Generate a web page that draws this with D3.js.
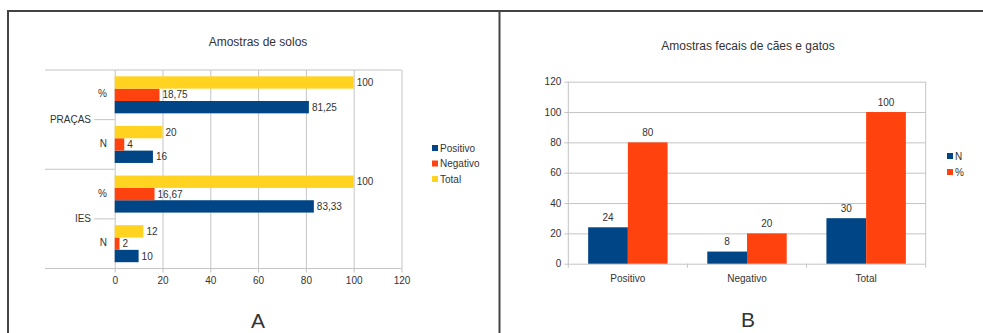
<!DOCTYPE html>
<html>
<head>
<meta charset="utf-8">
<script src="https://cdn.jsdelivr.net/npm/d3@7"></script>
<style>
  body { margin: 0; background: #fff; }
  svg text { font-family: "Liberation Sans", Arial, sans-serif; fill: #333; }
</style>
</head>
<body>
<svg id="fig" width="983" height="333"></svg>
<script>
// ---- data: chart A (soil samples) ----
const groupsA = ["PRAÇAS", "IES"];
const subCatsA = ["%", "N"];
const seriesA = ["Positivo", "Negativo", "Total"];
const positivoA = [81.25, 16, 83.33, 10];   // PRAÇAS %, PRAÇAS N, IES %, IES N
const negativoA = [18.75, 4, 16.67, 2];
const totalA    = [100, 20, 100, 12];
const ticksA = [0, 20, 40, 60, 80, 100, 120];

// ---- data: chart B (faecal samples) ----
const categoriesB = ["Positivo", "Negativo", "Total"];
const seriesB = ["N", "%"];
const nB   = [24, 8, 30];
const pctB = [80, 20, 100];
const ticksB = [0, 20, 40, 60, 80, 100, 120];

const COLORS = { "Positivo": "#004586", "Negativo": "#ff420e", "Total": "#ffd320", "N": "#004586", "%": "#ff420e" };
const GRID = "#c4c4c4";

const locale = d3.formatLocale({ decimal: ",", thousands: ".", grouping: [3], currency: ["", ""] });
const fmt = locale.format("~f");

const svg = d3.select("#fig");

// outer frame
svg.append("line").attr("x1", 8).attr("x2", 983).attr("y1", 11).attr("y2", 11)
  .attr("stroke", "#444").attr("stroke-width", 2);
svg.append("line").attr("x1", 8).attr("x2", 8).attr("y1", 10).attr("y2", 333)
  .attr("stroke", "#444").attr("stroke-width", 2);
svg.append("line").attr("x1", 499.5).attr("x2", 499.5).attr("y1", 10).attr("y2", 333)
  .attr("stroke", "#444").attr("stroke-width", 2);

// ================= Chart A =================
function drawChartA() {
  const g = svg.append("g");
  const rows = [];
  groupsA.forEach((grp, gi) => subCatsA.forEach((sub, si) => {
    const i = gi * subCatsA.length + si;
    rows.push({ key: grp + "|" + sub, grp, sub,
      vals: { "Positivo": positivoA[i], "Negativo": negativoA[i], "Total": totalA[i] } });
  }));

  const x = d3.scaleLinear().domain([0, 120]).range([114.7, 401.5]);
  const y = d3.scaleBand().domain(rows.map(r => r.key)).range([70, 268.5]);
  const yInner = d3.scaleBand().domain(["Total", "Negativo", "Positivo"])
    .range([0, y.bandwidth()]).paddingOuter(0.51);
  const yGroup = d3.scaleBand().domain(groupsA).range([70, 268.5]);

  g.append("text").attr("x", 258).attr("y", 46).attr("text-anchor", "middle")
    .attr("font-size", 12).text("Amostras de solos");

  // vertical grid + ticks below
  const xAxis = d3.axisBottom(x).tickValues(ticksA).tickSize(-(268.5 - 70)).tickPadding(8);
  const ax = g.append("g").attr("transform", "translate(0,268.5)").call(xAxis);
  ax.select(".domain").remove();
  ax.selectAll(".tick line").attr("stroke", GRID).attr("y1", 4);
  ax.selectAll(".tick text").attr("font-size", 10).attr("fill", "#333")
    .attr("font-family", "Liberation Sans, Arial, sans-serif");

  // horizontal frame lines (top, group separator, bottom)
  const hLines = [70, yGroup(groupsA[1]), 268.5];
  g.selectAll(".hl").data(hLines).enter().append("line")
    .attr("x1", 45).attr("x2", (d, i) => i === 1 ? x(0) : x(120))
    .attr("y1", d => d).attr("y2", d => d).attr("stroke", GRID);

  // group labels with tick
  groupsA.forEach(grp => {
    const cy = yGroup(grp) + yGroup.bandwidth() / 2;
    g.append("line").attr("x1", 94).attr("x2", x(0)).attr("y1", cy).attr("y2", cy).attr("stroke", GRID);
    g.append("text").attr("x", 91).attr("y", cy).attr("dy", "0.35em")
      .attr("text-anchor", "end").attr("font-size", 10).text(grp);
  });

  // sub category labels
  g.selectAll(".sub").data(rows).enter().append("text")
    .attr("x", 107).attr("y", d => y(d.key) + y.bandwidth() / 2 - 1).attr("dy", "0.35em")
    .attr("text-anchor", "end").attr("font-size", 10).text(d => d.sub);

  // bars
  const bars = [];
  rows.forEach(r => seriesA.forEach(s => bars.push({ key: r.key, s, v: r.vals[s] })));
  g.selectAll(".bar").data(bars).enter().append("rect")
    .attr("x", x(0)).attr("y", d => y(d.key) + yInner(d.s))
    .attr("width", d => x(d.v) - x(0)).attr("height", yInner.bandwidth())
    .attr("fill", d => COLORS[d.s]);

  g.selectAll(".lbl").data(bars).enter().append("text")
    .attr("x", d => x(d.v) + 3).attr("y", d => y(d.key) + yInner(d.s) + yInner.bandwidth() / 2)
    .attr("dy", "0.35em").attr("font-size", 10).text(d => fmt(d.v));

  // legend
  const lg = g.append("g").attr("transform", "translate(432,148)");
  seriesA.forEach((s, i) => {
    lg.append("rect").attr("x", 0).attr("y", i * 15.5 - 3).attr("width", 6).attr("height", 6).attr("fill", COLORS[s]);
    lg.append("text").attr("x", 8).attr("y", i * 15.5).attr("dy", "0.35em").attr("font-size", 10).text(s);
  });

  g.append("text").attr("x", 258).attr("y", 328).attr("text-anchor", "middle")
    .attr("font-size", 21).text("A");
}

// ================= Chart B =================
function drawChartB() {
  const g = svg.append("g");
  const x = d3.scaleBand().domain(categoriesB).range([568.3, 925.7]);
  const xInner = d3.scaleBand().domain(seriesB).range([0, x.bandwidth()]).paddingOuter(0.5);
  const y = d3.scaleLinear().domain([0, 120]).range([263.7, 81.7]);

  g.append("text").attr("x", 748).attr("y", 50).attr("text-anchor", "middle")
    .attr("font-size", 12).text("Amostras fecais de cães e gatos");

  const yAxis = d3.axisLeft(y).tickValues(ticksB).tickSize(-(925.7 - 568.3)).tickPadding(7);
  const ay = g.append("g").attr("transform", "translate(568.3,0)").call(yAxis);
  ay.select(".domain").remove();
  ay.selectAll(".tick line").attr("stroke", GRID).attr("x1", -4);
  ay.selectAll(".tick text").attr("font-size", 10).attr("fill", "#333")
    .attr("font-family", "Liberation Sans, Arial, sans-serif");

  // left and right frame
  [568.3, 925.7].forEach(xx => g.append("line").attr("x1", xx).attr("x2", xx)
    .attr("y1", y(120)).attr("y2", y(0) + 4).attr("stroke", GRID));

  // category ticks on x
  categoriesB.slice(1).forEach(c => g.append("line").attr("x1", x(c)).attr("x2", x(c))
    .attr("y1", y(0)).attr("y2", y(0) + 4).attr("stroke", GRID));
  g.selectAll(".cat").data(categoriesB).enter().append("text")
    .attr("x", d => x(d) + x.bandwidth() / 2).attr("y", 278).attr("dy", "0.35em")
    .attr("text-anchor", "middle").attr("font-size", 10).text(d => d);

  const bars = [];
  categoriesB.forEach((c, i) => {
    bars.push({ c, s: "N", v: nB[i] });
    bars.push({ c, s: "%", v: pctB[i] });
  });
  g.selectAll(".bar").data(bars).enter().append("rect")
    .attr("x", d => x(d.c) + xInner(d.s)).attr("y", d => y(d.v))
    .attr("width", xInner.bandwidth()).attr("height", d => y(0) - y(d.v))
    .attr("fill", d => COLORS[d.s]);
  g.selectAll(".lbl").data(bars).enter().append("text")
    .attr("x", d => x(d.c) + xInner(d.s) + xInner.bandwidth() / 2).attr("y", d => y(d.v) - 10)
    .attr("dy", "0.35em").attr("text-anchor", "middle").attr("font-size", 10).text(d => fmt(d.v));

  const lg = g.append("g").attr("transform", "translate(947,156)");
  seriesB.forEach((s, i) => {
    lg.append("rect").attr("x", 0).attr("y", i * 16 - 3).attr("width", 6).attr("height", 6).attr("fill", COLORS[s]);
    lg.append("text").attr("x", 8).attr("y", i * 16).attr("dy", "0.35em").attr("font-size", 10).text(s);
  });

  g.append("text").attr("x", 748).attr("y", 327).attr("text-anchor", "middle")
    .attr("font-size", 21).text("B");
}

drawChartA();
drawChartB();
</script>
</body>
</html>
